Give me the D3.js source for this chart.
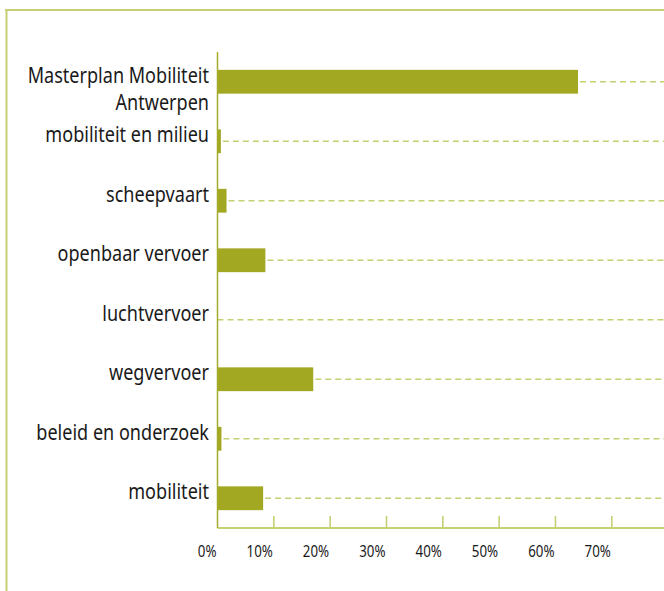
<!DOCTYPE html>
<html>
<head>
<meta charset="utf-8">
<script src="https://cdn.jsdelivr.net/npm/d3@7/dist/d3.min.js"></script>
<style>
  html, body { margin: 0; padding: 0; background: #ffffff; }
  svg { display: block; }
</style>
</head>
<body>
<script>
// Categories, top to bottom; "\n" marks a line break in the label
const categories = [
  "Masterplan Mobiliteit\nAntwerpen",
  "mobiliteit en milieu",
  "scheepvaart",
  "openbaar vervoer",
  "luchtvervoer",
  "wegvervoer",
  "beleid en onderzoek",
  "mobiliteit"
];
// Share per category, in percent
const shares = [64, 0.6, 1.6, 8.5, 0, 17, 0.7, 8.1];
// Axis ticks (percent)
const tickValues = [0, 10, 20, 30, 40, 50, 60, 70];
const tickLabels = ["0%", "10%", "20%", "30%", "40%", "50%", "60%", "70%"];

const W = 664, H = 591;
const barColor = "#a2a822";
const lightOlive = "#c6cf72";
const axisOlive = "#a4ab2a";
const textColor = "#1a1a1a";
const squeeze = 0.86; // narrow the type horizontally
const fontFamily = "'Noto Sans', 'Open Sans', sans-serif";

const svg = d3.select("body").append("svg")
  .attr("width", W).attr("height", H);

// Frame: top and left rules
svg.append("line")
  .attr("x1", 5).attr("x2", W).attr("y1", 10).attr("y2", 10)
  .attr("stroke", lightOlive).attr("stroke-width", 2);
svg.append("line")
  .attr("x1", 6.5).attr("x2", 6.5).attr("y1", 10).attr("y2", H)
  .attr("stroke", lightOlive).attr("stroke-width", 2);

const plotTop = 52, plotBottom = 528, plotLeft = 217.5;

const x = d3.scaleLinear().domain([0, 80]).range([plotLeft, plotLeft + 8 * 56.33]);
const y = d3.scaleBand().domain(categories).range([plotTop, plotBottom])
  .paddingInner(0.6).paddingOuter(0.3);

// Dashed guide lines from the bar end to the right edge
svg.append("g").selectAll("line")
  .data(categories)
  .join("line")
  .attr("x1", (d, i) => shares[i] > 0 ? x(shares[i]) + 2 : x(0))
  .attr("x2", W)
  .attr("y1", d => y(d) + y.bandwidth() / 2)
  .attr("y2", d => y(d) + y.bandwidth() / 2)
  .attr("stroke", lightOlive)
  .attr("stroke-width", 1.6)
  .attr("stroke-dasharray", "6,4");

// Bars
svg.append("g").selectAll("rect")
  .data(categories)
  .join("rect")
  .attr("x", x(0))
  .attr("y", d => y(d))
  .attr("width", (d, i) => x(shares[i]) - x(0))
  .attr("height", y.bandwidth())
  .attr("fill", barColor);

// Category labels, right-aligned, first line on the bar's centre line
const labels = svg.append("g").selectAll("g")
  .data(categories)
  .join("g")
  .attr("transform", d => `translate(209, ${y(d) + y.bandwidth() / 2 + 1}) scale(${squeeze},1)`);
labels.each(function (d) {
  const lines = d.split("\n");
  const t = d3.select(this).append("text")
    .attr("text-anchor", "end")
    .attr("font-family", fontFamily)
    .attr("font-size", 21)
    .attr("fill", textColor);
  lines.forEach((ln, k) => {
    t.append("tspan").attr("x", 0).attr("y", k * 27).text(ln);
  });
});

// X axis baseline and tick marks
svg.append("line")
  .attr("x1", x(0)).attr("x2", W)
  .attr("y1", plotBottom).attr("y2", plotBottom)
  .attr("stroke", lightOlive).attr("stroke-width", 2);
svg.append("g").selectAll("line")
  .data(tickValues.filter(v => v > 0))
  .join("line")
  .attr("x1", d => x(d)).attr("x2", d => x(d))
  .attr("y1", plotBottom - 12).attr("y2", plotBottom)
  .attr("stroke", lightOlive).attr("stroke-width", 1.6);

// Tick labels, right-aligned to their tick
svg.append("g").selectAll("g")
  .data(tickValues)
  .join("g")
  .attr("transform", d => `translate(${x(d) - 1}, 557) scale(${squeeze},1)`)
  .append("text")
  .attr("text-anchor", "end")
  .attr("font-family", fontFamily)
  .attr("font-size", 15.5)
  .attr("fill", textColor)
  .text((d, i) => tickLabels[i]);

// Y axis line
svg.append("line")
  .attr("x1", plotLeft).attr("x2", plotLeft)
  .attr("y1", plotTop).attr("y2", plotBottom)
  .attr("stroke", axisOlive).attr("stroke-width", 1.5);
</script>
</body>
</html>
